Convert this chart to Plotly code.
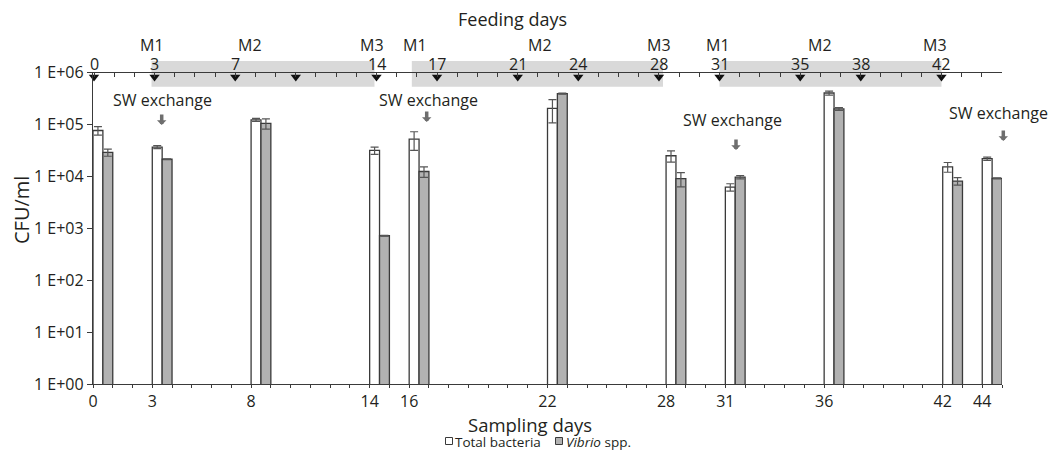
import plotly.graph_objects as go

# ---------------- data ----------------
sampling_days = [0, 3, 8, 14, 16, 22, 28, 31, 36, 42, 44]
# position of each sampling day on the original category axis (one extra slot between 16 and 22)
axis_slot = [0, 3, 8, 14, 16, 23, 29, 32, 37, 43, 45]
total_bacteria = [7.5e4, 3.6e4, 1.2e5, 3.1e4, 5.1e4, 2.0e5, 2.45e4, 6.1e3, 3.95e5, 1.5e4, 2.15e4]
total_err = [1.4e4, 2.5e3, 8e3, 5e3, 2.0e4, 9.5e4, 6e3, 1.0e3, 3.5e4, 3.2e3, 1.6e3]
vibrio = [2.85e4, 2.1e4, 1.03e5, 7.1e2, 1.22e4, 3.85e5, 8.9e3, 9.5e3, 1.95e5, 8.0e3, 9.0e3]
vibrio_err = [4.5e3, 3e2, 2.3e4, 10, 2.8e3, 8e3, 2.7e3, 7e2, 1.2e4, 1.3e3, 2e2]

feeding_days = [0, 3, 7, 10, 14, 17, 21, 24, 28, 31, 35, 38, 42]
feeding_labels = [0, 3, 7, 14, 17, 21, 24, 28, 31, 35, 38, 42]
diet_labels = ["M1", "M2", "M3", "M1", "M2", "M3", "M1", "M2", "M3"]
diet_label_day = [2.86, 7.73, 13.76, 15.9, 22.1, 28.0, 30.9, 36.0, 41.7]
period_start = [2.85, 15.75, 31.0]
period_end = [13.9, 28.2, 42.0]

y_tick_vals = [1, 10, 100, 1e3, 1e4, 1e5, 1e6]
y_tick_text = ["1 E+00", "1 E+01", "1 E+02", "1 E+03", "1 E+04", "1 E+05", "1 E+06"]

series_names = ["Total bacteria", "<i>Vibrio</i> spp."]
series_fill = ["white", "#b2b2b2"]

# ---------------- layout constants ----------------
FONT = "Open Sans"
TXT = "#231f20"
LINE = "#3a3a3a"
PAGE_OFF = 8                       # default body margin of the html page
PL, PR, PT, PB = 93, 1002, 72, 384  # plot-area edges in screen pixels
W, H = 1059 - PAGE_OFF, 460 - PAGE_OFF
ML, MT = PL - PAGE_OFF, PT - PAGE_OFF
MR, MB = W - (PR - PAGE_OFF), H - (PB - PAGE_OFF)
PW, PH = PR - PL, PB - PT


def px_x(p):
    return (p - PL) / PW


def px_y(p):
    return (PB - p) / PH


n_slots = 46
fig = go.Figure()

fig.add_trace(go.Bar(
    name=series_names[0], x=axis_slot, y=total_bacteria, width=0.5, offset=0,
    marker=dict(color=series_fill[0], line=dict(color=LINE, width=1.3)),
    error_y=dict(type="data", array=total_err, color="#555", thickness=1.2, width=4),
    showlegend=False,
))
fig.add_trace(go.Bar(
    name=series_names[1], x=axis_slot, y=vibrio, width=0.5, offset=0.5,
    marker=dict(color=series_fill[1], line=dict(color=LINE, width=1.3)),
    error_y=dict(type="data", array=vibrio_err, color="#555", thickness=1.2, width=4),
    showlegend=False,
))

# feeding-day markers on the top axis
fig.add_trace(go.Scatter(
    x=feeding_days, y=[10 ** 5.905] * len(feeding_days), xaxis="x2", yaxis="y",
    mode="markers", marker=dict(symbol="triangle-down", size=9, color="#111"),
    showlegend=False, cliponaxis=False, hoverinfo="skip",
))

slot_ticks = list(range(n_slots + 1))
slot_text = [str(sampling_days[axis_slot.index(s)]) if s in axis_slot else "" for s in slot_ticks]
day_ticks = list(range(46))
top_range = [-0.05, 45.0]

axis_font = dict(family=FONT, size=16, color=TXT)
fig.update_layout(
    width=W, height=H,
    margin=dict(l=ML, r=MR, t=MT, b=MB, autoexpand=False),
    paper_bgcolor="white", plot_bgcolor="white",
    font=dict(family=FONT, size=16, color=TXT),
    barmode="overlay",
    showlegend=False,
    xaxis=dict(range=[0, n_slots], tickmode="array", tickvals=slot_ticks, ticktext=slot_text,
               ticks="outside", ticklen=3, tickcolor=LINE, tickwidth=1.2,
               showline=True, linecolor=LINE, linewidth=1.3, showgrid=False, zeroline=False,
               tickfont=axis_font, automargin=False),
    xaxis4=dict(range=[0, n_slots], overlaying="x", anchor="y", side="bottom",
                tickmode="array", tickvals=slot_ticks, showticklabels=False,
                ticks="inside", ticklen=4, tickcolor=LINE, tickwidth=1.2,
                showline=False, showgrid=False, zeroline=False, automargin=False),
    xaxis2=dict(range=top_range, overlaying="x", anchor="free", position=1, side="top",
                tickmode="array", tickvals=day_ticks, showticklabels=False,
                ticks="inside", ticklen=4, tickcolor=LINE, tickwidth=1.2,
                showline=True, linecolor=LINE, linewidth=1.3, showgrid=False, zeroline=False,
                automargin=False),
    xaxis3=dict(range=top_range, overlaying="x", anchor="free", position=1, side="top",
                tickmode="array", tickvals=day_ticks, showticklabels=False,
                ticks="outside", ticklen=2, tickcolor=LINE, tickwidth=1.2,
                showline=False, showgrid=False, zeroline=False, automargin=False),
    yaxis=dict(type="log", range=[0, 6], tickmode="array", tickvals=y_tick_vals, ticktext=y_tick_text,
               ticks="outside", ticklen=5, tickcolor=LINE, tickwidth=1.2,
               showline=True, linecolor=LINE, linewidth=1.3, showgrid=False, zeroline=False,
               tickfont=axis_font, automargin=False),
)

# grey feeding periods
for s, e in zip(period_start, period_end):
    fig.add_shape(type="rect", xref="x2", yref="paper", x0=s, x1=e,
                  y0=px_y(86.7), y1=px_y(61.0), fillcolor="#d9d9d9",
                  line=dict(width=0), layer="below")

# feeding-day labels of the top axis
for d in feeding_labels:
    fig.add_annotation(text=str(d), xref="x2", yref="paper", x=d, y=px_y(63.5), showarrow=False,
                       xanchor="center", yanchor="middle", borderpad=0,
                       font=dict(family=FONT, size=16, color=TXT))

# diet labels
for lab, d in zip(diet_labels, diet_label_day):
    fig.add_annotation(text=lab, xref="x2", yref="paper", x=d, y=px_y(44.5), showarrow=False,
                       xanchor="center", yanchor="middle", borderpad=0,
                       font=dict(family=FONT, size=16, color=TXT))

# titles
fig.add_annotation(text="Feeding days", xref="paper", yref="paper", x=px_x(512), y=px_y(19),
                   xanchor="center", yanchor="middle", borderpad=0,
                   showarrow=False, font=dict(family=FONT, size=18, color=TXT))
fig.add_annotation(text="Sampling days", xref="paper", yref="paper", x=px_x(530), y=px_y(424.5),
                   xanchor="center", yanchor="middle", borderpad=0,
                   showarrow=False, font=dict(family=FONT, size=18.5, color=TXT))
fig.add_annotation(text="CFU/ml", xref="paper", yref="paper", x=px_x(21), y=px_y(210),
                   xanchor="center", yanchor="middle", borderpad=0,
                   showarrow=False, textangle=-90, font=dict(family=FONT, size=20, color=TXT))

# legend (swatch + label)
legend_swatch_x = [449, 559]
legend_text_x = [454, 565]
for name, fill, sx, tx in zip(series_names, series_fill, legend_swatch_x, legend_text_x):
    fig.add_shape(type="rect", xref="paper", yref="paper",
                  x0=px_x(sx - 3.5), x1=px_x(sx + 3.5), y0=px_y(444.5), y1=px_y(437.5),
                  fillcolor=fill, line=dict(color=LINE, width=1))
    fig.add_annotation(text=name, xref="paper", yref="paper", x=px_x(tx), y=px_y(442),
                       xanchor="left", yanchor="middle", showarrow=False, borderpad=0,
                       font=dict(family=FONT, size=13.5, color=TXT))

# seawater exchange notes: (text x, text y, arrow x, arrow tip y) in pixels
sw_notes = [(162.5, 100, 161.7, 125), (428, 100, 426.7, 122), (732, 120, 736, 150), (998.7, 113, 1003.3, 141)]
for tx, ty, axp, ayp in sw_notes:
    fig.add_annotation(text="SW exchange", xref="paper", yref="paper", x=px_x(tx), y=px_y(ty),
                       xanchor="center", yanchor="middle", borderpad=0,
                       showarrow=False, font=dict(family=FONT, size=16, color=TXT))
    fig.add_annotation(text="", xref="paper", yref="paper", x=px_x(axp), y=px_y(ayp),
                       showarrow=True, ax=0, ay=-12, arrowhead=1, arrowsize=0.45, arrowwidth=3.5,
                       arrowcolor="#6e6e6e", standoff=0)

fig.write_html("out.html")
